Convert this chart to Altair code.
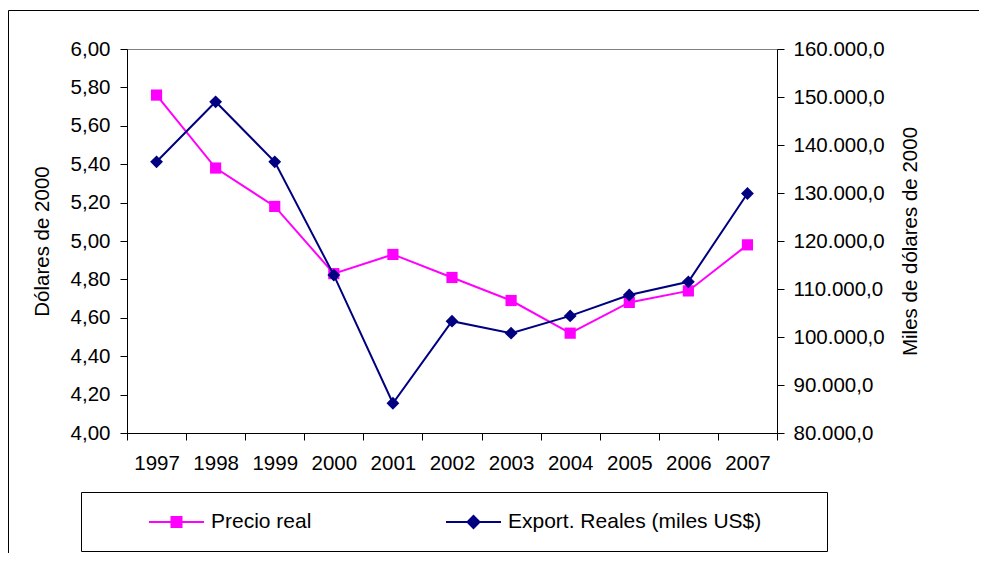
import altair as alt
import pandas as pd

years = ["1997", "1998", "1999", "2000", "2001", "2002", "2003", "2004", "2005", "2006", "2007"]
precio_real = [5.76, 5.38, 5.18, 4.83, 4.93, 4.81, 4.69, 4.52, 4.68, 4.74, 4.98]
export_reales = [136500, 149000, 136500, 112900, 86200, 103300, 100800, 104400, 108750, 111500, 129900]

series_names = ["Precio real", "Export. Reales (miles US$)"]
series_colors = ["#FF00FF", "#000080"]
legend_paths = [
    "M-1,0H4.5M1.25,-0.5H2.25V0.5H1.25Z",
    "M-1,0H4.5M1.75,-0.6L2.35,0L1.75,0.6L1.15,0Z",
]
left_ticks = [4.0, 4.2, 4.4, 4.6, 4.8, 5.0, 5.2, 5.4, 5.6, 5.8, 6.0]
right_ticks = [80000, 90000, 100000, 110000, 120000, 130000, 140000, 150000, 160000]

FONT = "Liberation Sans"
FS = 20.5
LFS = 21

df = pd.DataFrame({"year": years, "precio": precio_real, "export": export_reales})
leg_df = pd.DataFrame({"series": series_names})

x_enc = alt.X(
    "year:O",
    sort=years,
    scale=alt.Scale(type="band", paddingInner=0, paddingOuter=0),
    axis=alt.Axis(
        title=None, labelAngle=0, tickBand="extent", tickSize=7, labelPadding=13,
        labelFontSize=FS, labelColor="black", domainColor="black", tickColor="black",
        grid=False,
    ),
)

y_left = alt.Y(
    "precio:Q",
    scale=alt.Scale(domain=[4, 6], nice=False, zero=False),
    axis=alt.Axis(
        title="Dólares de 2000", values=left_ticks, grid=False,
        labelExpr="replace(format(datum.value, '.2f'), '.', ',')",
        tickSize=7, labelPadding=10, labelFontSize=FS, labelColor="black",
        domainColor="black", tickColor="black",
        titleFontSize=FS, titleFontWeight="normal", titleColor="black", titlePadding=18,
    ),
)

y_right = alt.Y(
    "export:Q",
    scale=alt.Scale(domain=[80000, 160000], nice=False, zero=False),
    axis=alt.Axis(
        orient="right", title="Miles de dólares de 2000", values=right_ticks, grid=False,
        labelExpr="replace(replace(replace(format(datum.value, ',.1f'), ',', '#'), '.', ','), '#', '.')",
        tickSize=7, labelPadding=9, labelFontSize=FS, labelColor="black",
        domainColor="black", tickColor="black",
        titleFontSize=FS, titleFontWeight="normal", titleColor="black",
        titleAngle=270, titleBaseline="top", titlePadding=16,
    ),
)

base = alt.Chart(df)
line_p = base.mark_line(color=series_colors[0], strokeWidth=2).encode(x=x_enc, y=y_left)
pts_p = base.mark_point(shape="square", filled=True, size=125, opacity=1,
                        color=series_colors[0]).encode(x=x_enc, y=y_left)
line_e = base.mark_line(color=series_colors[1], strokeWidth=2).encode(x=x_enc, y=y_right)
pts_e = base.mark_point(shape="diamond", filled=True, size=165, opacity=1,
                        color=series_colors[1]).encode(x=x_enc, y=y_right)

layer_p = alt.layer(line_p, pts_p)
layer_e = alt.layer(line_e, pts_e)

nbsp = "\u00a0"
zwsp = "\u200b"
leg = alt.Legend(
    title=nbsp, titleOrient="left", titlePadding=48, titleFontSize=LFS,
    orient="none", legendX=-46, legendY=443, direction="horizontal",
    padding=19, strokeColor="black", fillColor="white",
    symbolSize=400, symbolStrokeWidth=2,
    labelFont=FONT, labelFontSize=LFS, labelColor="black", labelOffset=41,
    labelLimit=800, columnPadding=130,
    labelExpr="datum.label == '" + series_names[1] + "' ? datum.label + '" + nbsp * 8 + zwsp + "' : datum.label",
)

legend_layer = alt.Chart(leg_df).mark_point(filled=True, opacity=1).encode(
    fill=alt.Fill("series:N", scale=alt.Scale(domain=series_names, range=series_colors), legend=leg),
    stroke=alt.Stroke("series:N", scale=alt.Scale(domain=series_names, range=series_colors), legend=leg),
    shape=alt.Shape("series:N", scale=alt.Scale(domain=series_names, range=legend_paths), legend=leg),
).transform_filter("false")

frame = alt.Chart(pd.DataFrame({"k": [0]})).mark_rect(
    fillOpacity=0, stroke="black", strokeWidth=1
).encode(
    x=alt.value(-118.5), x2=alt.value(900), y=alt.value(-38.5), y2=alt.value(600)
)

chart = alt.layer(frame, layer_p, layer_e, legend_layer).resolve_scale(
    y="independent"
).properties(
    width=650, height=384,
    autosize=alt.AutoSizeParams(type="none"),
    padding={"left": 119, "top": 41, "right": 202, "bottom": 120},
    background="white",
).configure(font=FONT).configure_view(stroke="#808080", strokeWidth=1)

chart.save("out.html", embed_options={"renderer": "svg", "actions": False})
